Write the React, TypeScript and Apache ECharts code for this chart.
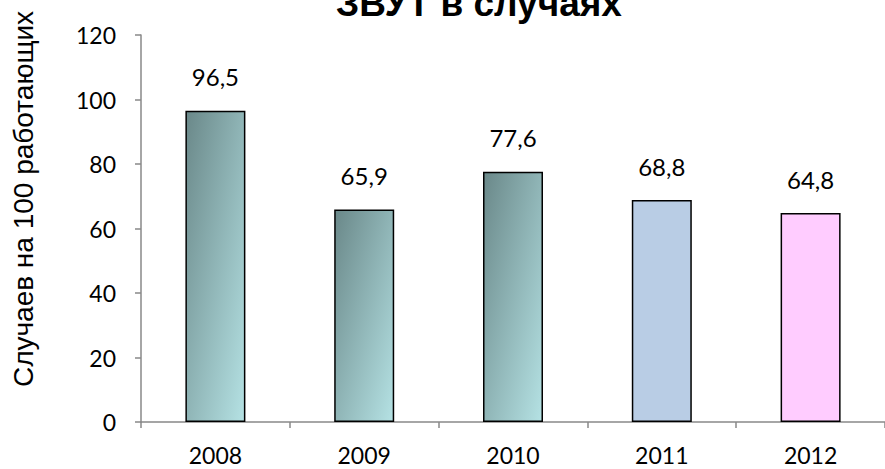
import React, { useEffect, useRef } from "react";
import * as echarts from "echarts";

const years = ["2008", "2009", "2010", "2011", "2012"];
const values = [96.5, 65.9, 77.6, 68.8, 64.8];
const yTicks = { min: 0, max: 120, interval: 20 };
const titleText = "ЗВУТ в случаях";
const yName = "Случаев на 100 работающих";

export default function App() {
  const ref = useRef<HTMLDivElement>(null);
  useEffect(() => {
    document.body.style.margin = "0";
    const chart = echarts.init(ref.current!, null, { renderer: "svg" });
    const grad = () =>
      new echarts.graphic.LinearGradient(0, 0, 1, 1, [
        { offset: 0, color: "#6a8889" },
        { offset: 1, color: "#b5e2e4" },
      ]);
    const solid = ["#b9cde5", "#ffccff"];
    const data = values.map((v, i) => ({
      value: v,
      itemStyle: { color: i < 3 ? grad() : solid[i - 3] },
    }));
    chart.setOption({
      animation: false,
      backgroundColor: "#ffffff",
      title: {
        text: titleText,
        left: 474,
        top: -20,
        textAlign: "center",
        textStyle: {
          fontFamily: "Liberation Sans",
          fontWeight: "bold",
          fontSize: 37,
          color: "#000",
        },
      },
      graphic: [
        {
          type: "text",
          x: 23,
          y: 199,
          rotation: Math.PI / 2,
          style: {
            text: yName,
            fontFamily: "Liberation Sans",
            fontSize: 28,
            fill: "#000",
            align: "center",
            verticalAlign: "middle",
          },
        },
      ],
      grid: { left: 141, right: -2, top: 35, bottom: 47 },
      xAxis: {
        type: "category",
        data: years,
        axisLine: { lineStyle: { color: "#888888", width: 1.5 } },
        axisTick: { show: true, length: 6, lineStyle: { color: "#888888", width: 1.5 } },
        axisLabel: { fontFamily: "Lato", fontSize: 23, color: "#000", margin: 21 },
      },
      yAxis: {
        type: "value",
        min: yTicks.min,
        max: yTicks.max,
        interval: yTicks.interval,
        splitLine: { show: false },
        axisLine: { show: true, lineStyle: { color: "#888888", width: 1.5 } },
        axisTick: { show: true, length: 6, lineStyle: { color: "#888888", width: 1.5 } },
        axisLabel: { fontFamily: "Lato", fontSize: 23, color: "#000", margin: 25 },
      },
      series: [
        {
          type: "bar",
          data,
          barWidth: 60,
          itemStyle: { borderColor: "#000", borderWidth: 1.5 },
          label: {
            show: true,
            position: "top",
            distance: 22,
            fontFamily: "Lato",
            fontSize: 24,
            color: "#000",
            formatter: (p: any) => String(p.value).replace(".", ","),
          },
        },
      ],
    });
    return () => chart.dispose();
  }, []);
  return <div ref={ref} style={{ width: 885, height: 469 }} />;
}
